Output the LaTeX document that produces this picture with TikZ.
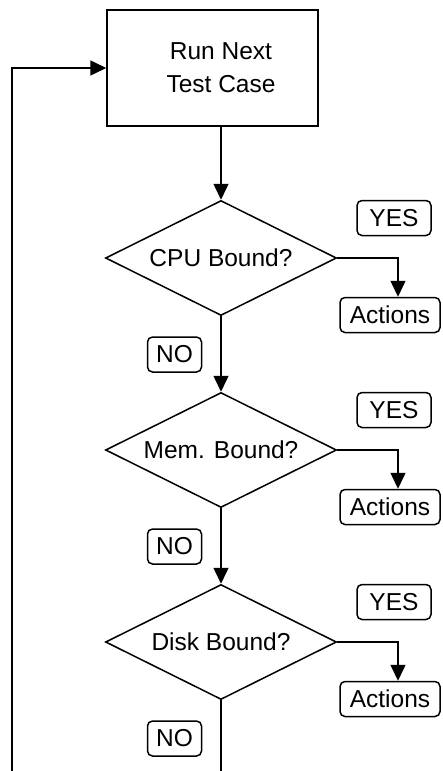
\documentclass[tikz,border=0pt]{standalone}
\usepackage{fontspec}
\setmainfont{Liberation Sans}
\usetikzlibrary{shapes.geometric,arrows.meta}
\begin{document}
\begin{tikzpicture}[x=1pt,y=-1pt, line width=1.5pt,
  font=\fontsize{24.5}{33}\selectfont,
  flow/.style={-{Triangle[length=16pt,width=15pt]}},
  procbox/.style={draw, minimum width=211pt, minimum height=116pt, align=center, inner sep=0pt},
  decision/.style={draw, diamond, aspect=2, minimum width=231pt, minimum height=115pt, inner sep=0pt},
  tag/.style={draw, rounded corners=5pt, minimum height=35pt, inner sep=0pt}]
\useasboundingbox (0,0) rectangle (442,771);

\node[procbox] (run) at (212.5,68) {\hspace*{17pt}Run Next\\\hspace*{17pt}Test Case};
\node[decision] (cpu) at (221,258) {CPU Bound?};
\node[decision] (mem) at (221,450) {Mem. Bound?};
\node[decision] (disk) at (221,642) {Disk Bound?};

\node[tag, minimum width=74pt] (yes1) at (394,218) {YES};
\node[tag, minimum width=74pt] (yes2) at (394,410) {YES};
\node[tag, minimum width=74pt] (yes3) at (394,602) {YES};

\node[tag, minimum width=100pt] (act1) at (390,315) {Actions};
\node[tag, minimum width=100pt] (act2) at (390,507) {Actions};
\node[tag, minimum width=100pt] (act3) at (390,699) {Actions};

\node[tag, minimum width=54pt] (no1) at (174.5,354.5) {NO};
\node[tag, minimum width=54pt] (no2) at (174.5,546.5) {NO};
\node[tag, minimum width=54pt] (no3) at (174.5,738.5) {NO};

\draw[flow] (run.south -| cpu.north) -- (cpu.north);
\draw[flow] (cpu) -- (mem);
\draw[flow] (mem) -- (disk);

\coordinate (bottomend) at (221,771);
\draw (disk.south) -- (bottomend);
\coordinate (loopstart) at (12,771);
\draw[flow] (loopstart) |- (run.west);

\draw[flow] (cpu.east) -| ([xshift=8pt]act1.north);
\draw[flow] (mem.east) -| ([xshift=8pt]act2.north);
\draw[flow] (disk.east) -| ([xshift=8pt]act3.north);
\end{tikzpicture}
\end{document}
